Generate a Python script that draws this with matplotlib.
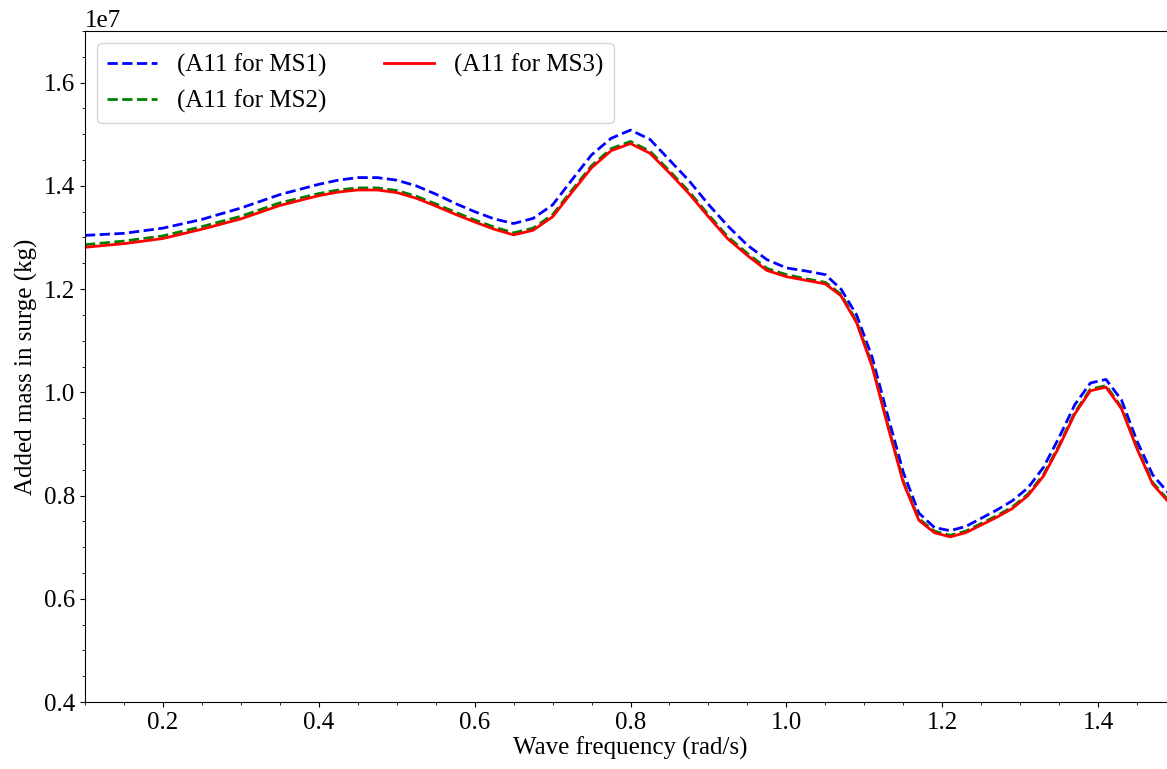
"""Added mass in surge (A11) vs wave frequency for three mooring systems."""

import matplotlib.pyplot as plt
import numpy as np
from matplotlib.ticker import MultipleLocator

plt.rcParams["font.family"] = ["Liberation Serif", "DejaVu Serif"]
plt.rcParams["font.size"] = 18

# wave frequency (rad/s)
freq = [0.10, 0.15, 0.20, 0.25, 0.30, 0.35, 0.40, 0.425, 0.45, 0.475,
        0.50, 0.525, 0.55, 0.575, 0.60, 0.625, 0.65, 0.675, 0.70, 0.725,
        0.75, 0.775, 0.80, 0.825, 0.85, 0.875, 0.90, 0.925, 0.95, 0.975,
        1.00, 1.025, 1.05, 1.07, 1.09, 1.11, 1.13, 1.15, 1.17, 1.19,
        1.21, 1.23, 1.25, 1.27, 1.29, 1.31, 1.33, 1.35, 1.37, 1.39,
        1.41, 1.43, 1.45, 1.47, 1.49, 1.50]

# added mass, units of 1e7 kg
a11_ms1 = [1.304, 1.308, 1.318, 1.335, 1.357, 1.383, 1.403, 1.411, 1.416, 1.416,
           1.411, 1.400, 1.384, 1.366, 1.350, 1.336, 1.327, 1.337, 1.363, 1.412,
           1.460, 1.492, 1.508, 1.490, 1.450, 1.410, 1.364, 1.322, 1.285, 1.257,
           1.241, 1.235, 1.228, 1.200, 1.150, 1.068, 0.955, 0.845, 0.766, 0.738,
           0.732, 0.740, 0.756, 0.772, 0.790, 0.815, 0.855, 0.913, 0.976, 1.018,
           1.025, 0.985, 0.905, 0.840, 0.805, 0.795]

a11_ms2 = [1.286, 1.293, 1.303, 1.321, 1.341, 1.367, 1.385, 1.392, 1.396, 1.396,
           1.391, 1.380, 1.365, 1.349, 1.334, 1.320, 1.309, 1.318, 1.344, 1.392,
           1.439, 1.472, 1.486, 1.467, 1.429, 1.389, 1.344, 1.301, 1.269, 1.240,
           1.228, 1.220, 1.213, 1.190, 1.138, 1.053, 0.938, 0.828, 0.755, 0.731,
           0.723, 0.731, 0.746, 0.761, 0.778, 0.803, 0.841, 0.898, 0.961, 1.006,
           1.013, 0.971, 0.893, 0.825, 0.791, 0.781]

a11_ms3 = [1.281, 1.288, 1.298, 1.316, 1.336, 1.362, 1.381, 1.388, 1.392, 1.392,
           1.387, 1.376, 1.361, 1.345, 1.330, 1.316, 1.305, 1.314, 1.340, 1.388,
           1.435, 1.468, 1.482, 1.463, 1.425, 1.385, 1.340, 1.297, 1.265, 1.236,
           1.224, 1.217, 1.210, 1.187, 1.135, 1.050, 0.935, 0.825, 0.752, 0.728,
           0.720, 0.728, 0.743, 0.758, 0.775, 0.800, 0.838, 0.895, 0.958, 1.003,
           1.010, 0.968, 0.890, 0.822, 0.788, 0.778]

SCALE = 1e7

fig = plt.figure(figsize=(11.67, 7.69), dpi=100)
ax = fig.add_axes([0.0728, 0.0871, 0.935, 0.8726])

ax.plot(freq, np.array(a11_ms1) * SCALE, "--", color="blue", lw=2, label="(A11 for MS1)")
ax.plot(freq, np.array(a11_ms2) * SCALE, "--", color="green", lw=2, label="(A11 for MS2)")
ax.plot(freq, np.array(a11_ms3) * SCALE, "-", color="red", lw=2, label="(A11 for MS3)")

ax.set_xlim(0.1, 1.5)
ax.set_ylim(0.4e7, 1.7e7)
ax.xaxis.set_major_locator(MultipleLocator(0.2))
ax.xaxis.set_minor_locator(MultipleLocator(0.05))
ax.yaxis.set_major_locator(MultipleLocator(0.2e7))
ax.yaxis.set_minor_locator(MultipleLocator(0.05e7))

ax.set_xlabel("Wave frequency (rad/s)", labelpad=2)
ax.set_ylabel("Added mass in surge (kg)")
ax.legend(loc="upper left", ncol=2, columnspacing=2.3)

fig.savefig("out.png", dpi=100)
